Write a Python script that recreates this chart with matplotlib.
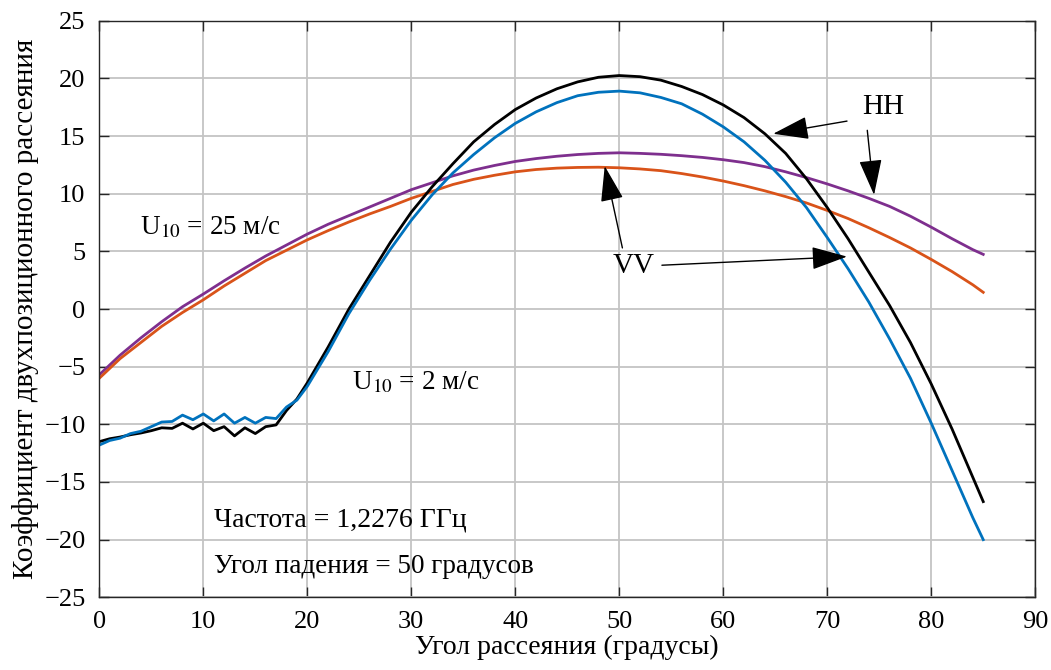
import numpy as np
import matplotlib
matplotlib.use('Agg')
import matplotlib.pyplot as plt

plt.rcParams['font.family'] = ['Liberation Serif', 'DejaVu Serif']
plt.rcParams['mathtext.fontset'] = 'stix'
plt.rcParams['axes.unicode_minus'] = True

# =============================================================================
# Data
# =============================================================================
# U10 = 2 m/s: dense 1-deg steps where the curves are ragged, then 2-deg steps
angle_2 = [0, 1, 2, 3, 4, 5, 6, 7, 8, 9, 10, 11, 12, 13, 14, 15, 16, 17, 18, 19,
           20, 22, 24, 26, 28, 30, 32, 34, 36, 38, 40, 42, 44, 46, 48, 50,
           52, 54, 56, 58, 60, 62, 64, 66, 68, 70, 72, 74, 76, 78, 80, 82, 84, 85]
hh_2 = [-11.5, -11.25, -11.1, -10.9, -10.75, -10.55, -10.3, -10.35, -9.9, -10.4,
        -9.9, -10.55, -10.2, -11.0, -10.3, -10.8, -10.2, -10.05, -8.8, -7.8,
        -6.4, -3.3, 0.0, 2.9, 5.8, 8.4, 10.6, 12.6, 14.5, 16.0, 17.3, 18.3, 19.1, 19.7, 20.1, 20.25,
        20.15, 19.85, 19.3, 18.6, 17.7, 16.6, 15.2, 13.5, 11.3, 8.8, 6.1, 3.2, 0.3, -2.9,
        -6.5, -10.4, -14.6, -16.7]
vv_2 = [-11.8, -11.4, -11.2, -10.8, -10.6, -10.2, -9.8, -9.75, -9.2, -9.6,
        -9.1, -9.7, -9.1, -9.9, -9.4, -9.9, -9.4, -9.5, -8.5, -7.9,
        -6.7, -3.7, -0.4, 2.5, 5.2, 7.7, 9.9, 11.8, 13.4, 14.85, 16.1, 17.1, 17.9, 18.5, 18.8, 18.9,
        18.75, 18.35, 17.8, 16.9, 15.8, 14.5, 12.9, 11.0, 8.8, 6.2, 3.5, 0.6, -2.6, -6.0,
        -9.9, -14.0, -18.1, -20.0]

# U10 = 25 m/s
angle_25 = [0, 2, 4, 6, 8, 10, 12, 14, 16, 18, 20, 22, 24, 26, 28, 30, 32, 34, 36, 38,
            40, 42, 44, 46, 48, 50, 52, 54, 56, 58, 60, 62, 64, 66, 68, 70, 72, 74, 76, 78,
            80, 82, 84, 85]
vv_25 = [-6.0, -4.3, -2.9, -1.5, -0.3, 0.8, 2.0, 3.1, 4.2, 5.1, 6.0, 6.8, 7.55, 8.25, 8.9,
         9.6, 10.2, 10.8, 11.25, 11.6, 11.9, 12.1, 12.22, 12.28, 12.3, 12.25, 12.15, 12.0,
         11.75, 11.45, 11.1, 10.7, 10.25, 9.75, 9.2, 8.55, 7.85, 7.05, 6.2, 5.3, 4.3, 3.25,
         2.1, 1.45]
hh_25 = [-5.7, -4.0, -2.5, -1.1, 0.2, 1.3, 2.45, 3.55, 4.6, 5.55, 6.5, 7.35, 8.1, 8.85,
         9.6, 10.35, 10.95, 11.55, 12.05, 12.45, 12.8, 13.05, 13.25, 13.4, 13.5, 13.55,
         13.5, 13.42, 13.3, 13.15, 12.95, 12.7, 12.35, 11.9, 11.4, 10.85, 10.25, 9.6, 8.9,
         8.05, 7.1, 6.1, 5.15, 4.74]

xticks = list(range(0, 91, 10))
yticks = list(range(-25, 26, 5))

# =============================================================================
# Plot
# =============================================================================
fig = plt.figure(figsize=(10.51, 6.70), dpi=100)
ax = fig.add_axes([0.0945, 0.1085, 0.8905, 0.8605])

ax.plot(angle_25, hh_25, color='#7E2F8E', lw=2.0)
ax.plot(angle_25, vv_25, color='#D95319', lw=2.0)
ax.plot(angle_2, hh_2, color='black', lw=2.0)
ax.plot(angle_2, vv_2, color='#0072BD', lw=2.0)

ax.set_xlim(0, 90)
ax.set_ylim(-25, 25)
ax.set_xticks(xticks)
ax.set_yticks(yticks)
ax.grid(True, color='#c4c4c4', lw=1.3)
ax.set_axisbelow(True)
ax.tick_params(direction='in', length=7, width=1.0, labelsize=19,
               top=True, right=True, colors='#262626', labelcolor='black', pad=10)
for s in ax.spines.values():
    s.set_color('#262626')
    s.set_linewidth(1.0)

ax.set_xlabel('Угол рассеяния (градусы)', fontsize=20, labelpad=1)
ax.set_ylabel('Коэффициент двухпозиционного рассеяния', fontsize=21, labelpad=4)

# text labels
ax.text(3.9, 6.5, 'U$_{10}$ = 25 м/с', fontsize=19.5, va='baseline')
ax.text(24.3, -7.0, 'U$_{10}$ = 2 м/с', fontsize=19.5, va='baseline')
ax.text(11.0, -18.9, 'Частота = 1,2276 ГГц', fontsize=20, va='baseline')
ax.text(11.0, -22.9, 'Угол падения = 50 градусов', fontsize=19.5, va='baseline')

# arrows
arrow = dict(arrowstyle='-|>,head_length=1.4,head_width=0.45', color='black',
             lw=1.0, mutation_scale=16, shrinkA=0, shrinkB=0)
ax.text(75.4, 17.5, 'HH', fontsize=21, ha='center', va='center')
ax.annotate('', xy=(64.8, 15.2), xytext=(71.9, 16.3), arrowprops=arrow)
ax.annotate('', xy=(74.5, 9.9), xytext=(73.85, 15.5), arrowprops=arrow)
ax.text(51.4, 3.7, 'VV', fontsize=21, ha='center', va='center')
ax.annotate('', xy=(48.6, 12.4), xytext=(50.3, 5.3), arrowprops=arrow)
ax.annotate('', xy=(71.9, 4.55), xytext=(54.1, 3.8), arrowprops=arrow)

fig.savefig('out.png', dpi=100)
